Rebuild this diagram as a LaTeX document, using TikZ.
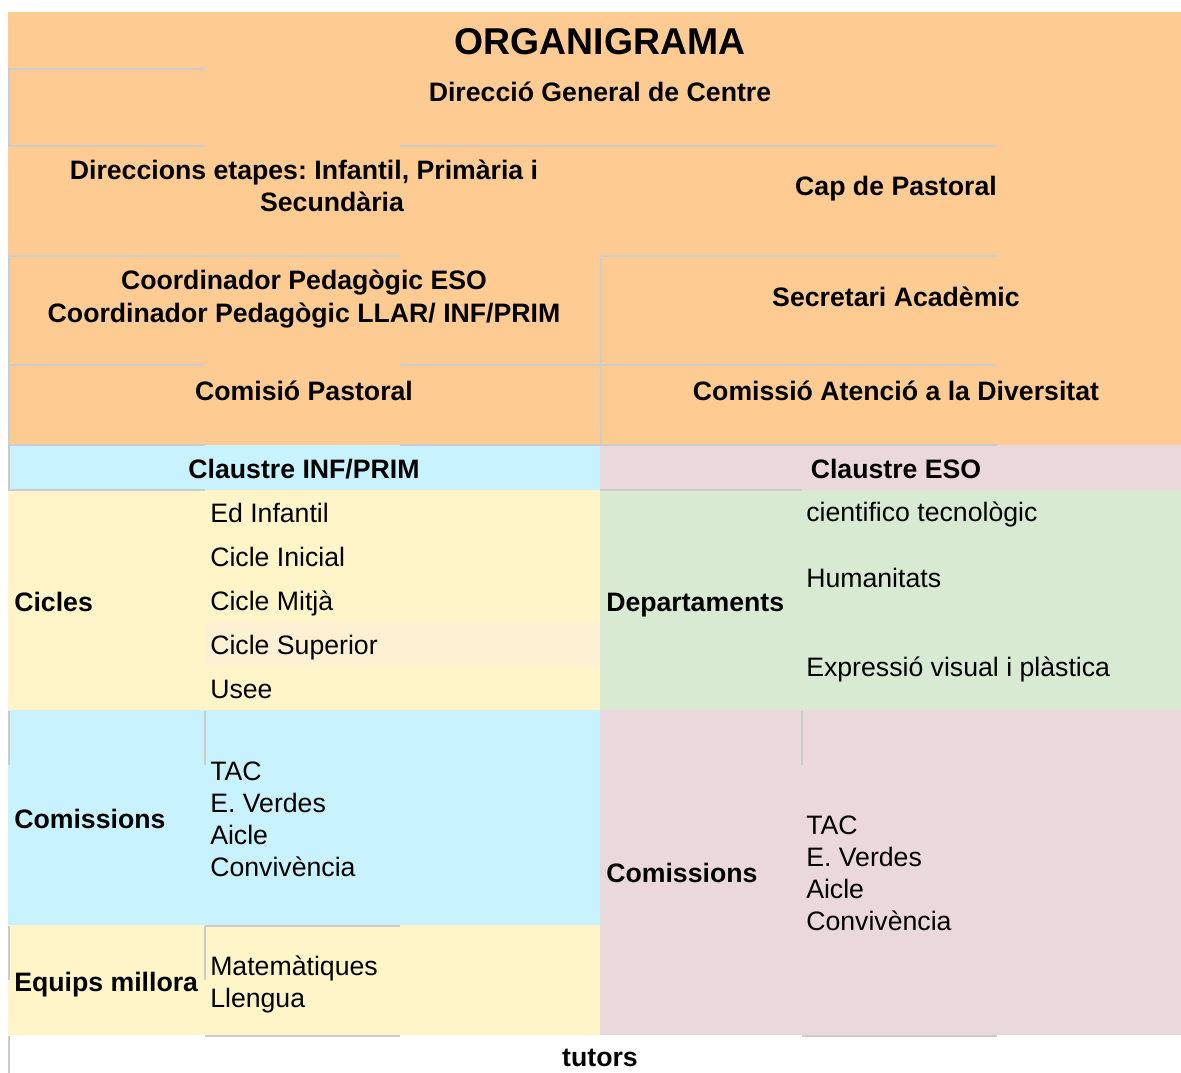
\documentclass[tikz,border=0pt]{standalone}
\usepackage{fontspec}
\setmainfont{Liberation Sans}
\frenchspacing
\definecolor{orangeC}{HTML}{FECB93}
\definecolor{blueC}{HTML}{C8F2FE}
\definecolor{pinkC}{HTML}{EAD8DC}
\definecolor{yellowC}{HTML}{FFF5C8}
\definecolor{bandC}{HTML}{FEF0D2}
\definecolor{greenC}{HTML}{D9EAD3}
\definecolor{gridC}{HTML}{CCCCCC}
\begin{document}
\begin{tikzpicture}[x=0.75pt,y=-0.75pt,
  gline/.style={draw=gridC, line width=1.5pt},
  bl/.style={font=\frenchspacing\fontsize{20}{24}\selectfont\bfseries, inner sep=0pt},
  rg/.style={font=\frenchspacing\fontsize{20}{24}\selectfont, inner sep=0pt},
  ttl/.style={font=\fontsize{28}{33}\selectfont\bfseries, inner sep=0pt}]
\useasboundingbox (0,0) rectangle (1181,1073);
\fill[white] (0,0) rectangle (1181,1073);
% cells
\fill[orangeC] (8,12) rectangle (1181,445);
\fill[blueC] (8,445) rectangle (600,490);
\fill[pinkC] (600,445) rectangle (1181,490);
\fill[yellowC] (8,490) rectangle (600,710);
\fill[bandC] (205,622) rectangle (600,666);
\fill[greenC] (600,490) rectangle (1181,710);
\fill[blueC] (8,710) rectangle (600,925);
\fill[yellowC] (8,925) rectangle (600,1035);
\fill[pinkC] (600,710) rectangle (1181,1035);
% grey border fragments
\draw[gline] (8,69) -- (205,69);
\draw[gline] (9,69) -- (9,146);
\draw[gline] (8,146) -- (205,146);
\draw[gline] (400,146) -- (997,146);
\draw[gline] (9,256) -- (9,490);
\draw[gline] (8,256) -- (400,256);
\draw[gline] (600,256) -- (997,256);
\draw[gline] (601,256) -- (601,445);
\draw[gline] (8,365) -- (205,365);
\draw[gline] (400,365) -- (997,365);
\draw[gline] (8,445) -- (205,445);
\draw[gline] (400,445) -- (997,445);
\draw[gline] (8,490) -- (205,490);
\draw[gline] (600,490) -- (802,490);
\draw[gline] (9,711) -- (9,765);
\draw[gline] (205,711) -- (205,765);
\draw[gline] (802,711) -- (802,765);
\draw[gline] (9,926) -- (9,980);
\draw[gline] (205,926) -- (205,980);
\draw[gline] (205,926) -- (400,926);
\draw[gline] (205,1036) -- (400,1036);
\draw[gline] (802,1036) -- (997,1036);
\draw[gline] (9,1036) -- (9,1073);
% texts
\node[ttl, anchor=base] (title) at (600,55) {ORGANIGRAMA};
\node[bl, anchor=base] (dgc) at (600,102) {Direcció General de Centre};
\node[bl, anchor=base] (de1) at (304,180) {Direccions etapes: Infantil, Primària i};
\node[bl, anchor=base] (de2) at (332,212) {Secundària};
\node[bl, anchor=base] (cap) at (896,196) {Cap de Pastoral};
\node[bl, anchor=base] (cp1) at (304,290) {Coordinador Pedagògic ESO};
\node[bl, anchor=base] (cp2) at (304,322) {Coordinador Pedagògic LLAR/ INF/PRIM};
\node[bl, anchor=base] (sec) at (896,306) {Secretari Acadèmic};
\node[bl, anchor=base] (cpa) at (304,400) {Comisió Pastoral};
\node[bl, anchor=base] (cad) at (896,400) {Comissió Atenció a la Diversitat};
\node[bl, anchor=base] (cip) at (304,478) {Claustre INF/PRIM};
\node[bl, anchor=base] (ces) at (896,478) {Claustre ESO};
\node[bl, anchor=base west] (cic) at (14,611) {Cicles};
\node[rg, anchor=base west] (c1) at (210,522) {Ed Infantil};
\node[rg, anchor=base west] (c2) at (210,566) {Cicle Inicial};
\node[rg, anchor=base west] (c3) at (210,610) {Cicle Mitjà};
\node[rg, anchor=base west] (c4) at (210,654) {Cicle Superior};
\node[rg, anchor=base west] (c5) at (210,698) {Usee};
\node[bl, anchor=base west] (dep) at (606,611) {Departaments};
\node[rg, anchor=base west] (d1) at (806,521) {cientifico tecnològic};
\node[rg, anchor=base west] (d2) at (806,587) {Humanitats};
\node[rg, anchor=base west] (d3) at (806,676) {Expressió visual i plàstica};
\node[bl, anchor=base west] (coml) at (14,828) {Comissions};
\node[rg, anchor=base west] (l1) at (210,780) {TAC};
\node[rg, anchor=base west] (l2) at (210,812) {E. Verdes};
\node[rg, anchor=base west] (l3) at (210,844) {Aicle};
\node[rg, anchor=base west] (l4) at (210,876) {Convivència};
\node[bl, anchor=base west] (comr) at (606,882) {Comissions};
\node[rg, anchor=base west] (r1) at (806,834) {TAC};
\node[rg, anchor=base west] (r2) at (806,866) {E. Verdes};
\node[rg, anchor=base west] (r3) at (806,898) {Aicle};
\node[rg, anchor=base west] (r4) at (806,930) {Convivència};
\node[bl, anchor=base west] (eqm) at (14,991) {Equips millora};
\node[rg, anchor=base west] (m1) at (210,975) {Matemàtiques};
\node[rg, anchor=base west] (m2) at (210,1007) {Llengua};
\node[bl, anchor=base] (tut) at (600,1066) {tutors};
\end{tikzpicture}
\end{document}
